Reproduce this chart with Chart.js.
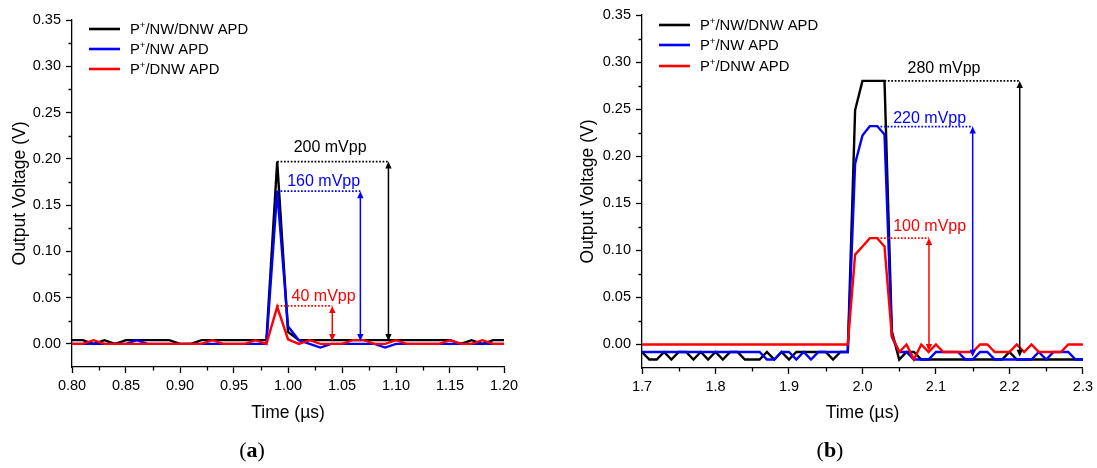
<!DOCTYPE html>
<html>
<head>
<meta charset="utf-8">
<script src="https://cdn.jsdelivr.net/npm/chart.js@4.4.1/dist/chart.umd.min.js"></script>
<style>
    html, body { margin: 0; padding: 0; background: #fff; }
    #wrap { position: relative; width: 1097px; height: 468px; overflow: hidden; }
    #chartA { position: absolute; left: 0; top: 0; }
    #chartB { position: absolute; left: 548px; top: 0; }
</style>
</head>
<body>
<div id="wrap">
    <canvas id="chartA" width="548" height="468"></canvas>
    <canvas id="chartB" width="549" height="468"></canvas>
</div>
<script>
// Series names / colours (same for both panels)
const seriesNames = ['P+/NW/DNW APD', 'P+/NW APD', 'P+/DNW APD'];
const seriesColors = ['#000000', '#0000ff', '#ff0000'];

// ---- Panel (a): time in us, output voltage in V ----
const timeA = [0.80, 0.81, 0.82, 0.83, 0.84, 0.85, 0.86, 0.87, 0.88, 0.89,
    0.90, 0.91, 0.92, 0.93, 0.94, 0.95, 0.96, 0.97, 0.98, 0.99,
    1.00, 1.01, 1.02, 1.03, 1.04, 1.05, 1.06, 1.07, 1.08, 1.09,
    1.10, 1.11, 1.12, 1.13, 1.14, 1.15, 1.16, 1.17, 1.18, 1.19, 1.20];
const blackA = [0.004, 0.004, 0, 0.004, 0, 0.004, 0.004, 0.004, 0.004, 0.004,
    0, 0, 0.004, 0.004, 0.004, 0.004, 0.004, 0.004, 0.004, 0.197,
    0.013, 0.004, 0.004, 0.004, 0.004, 0.004, 0.004, 0.004, 0.004, 0.004,
    0.004, 0.004, 0.004, 0.004, 0.004, 0.004, 0, 0.004, 0, 0.004, 0.004];
const blueA = [0, 0, 0, 0, 0, 0, 0.004, 0, 0, 0,
    0, 0, 0, 0, 0, 0, 0, 0, 0, 0.165,
    0.019, 0.004, 0, -0.004, 0, 0, 0, 0, 0, -0.004,
    0, 0, 0, 0, 0, 0, 0, 0, 0, 0, 0];
const redA = [0, 0, 0.004, 0, 0, 0, 0, 0, 0, 0,
    0, 0, 0, 0.004, 0, 0, 0, 0.004, 0, 0.040,
    0.005, 0, 0.004, 0, 0, 0, 0.004, 0.004, 0, 0,
    0.004, 0, 0, 0, 0, 0.004, 0, 0, 0.004, 0, 0];
const xTicksA = [0.80, 0.85, 0.90, 0.95, 1.00, 1.05, 1.10, 1.15, 1.20];
const xMinorA = [0.825, 0.875, 0.925, 0.975, 1.025, 1.075, 1.125, 1.175];
const yTicksA = [0.00, 0.05, 0.10, 0.15, 0.20, 0.25, 0.30, 0.35];
const yMinorA = [0.025, 0.075, 0.125, 0.175, 0.225, 0.275, 0.325];
// peak-to-peak markers (a)
const vppTextA = ['200 mVpp', '160 mVpp', '40 mVpp'];
const vppTopA = [0.197, 0.165, 0.041];
const vppBaseA = [0.003, 0.003, 0.003];
const vppStartA = [0.99, 0.99, 0.99];
const vppArrowA = [1.093, 1.067, 1.041];
const vppLabelXA = [1.039, 1.033, 1.033];
const vppLabelYA = [0.212, 0.175, 0.051];

// ---- Panel (b) ----
const timeB = [1.70, 1.71, 1.72, 1.73, 1.74, 1.75, 1.76, 1.77, 1.78, 1.79,
    1.80, 1.81, 1.82, 1.83, 1.84, 1.85, 1.86, 1.87, 1.88, 1.89,
    1.90, 1.91, 1.92, 1.93, 1.94, 1.95, 1.96, 1.97, 1.98, 1.99,
    2.00, 2.01, 2.02, 2.03, 2.04, 2.05, 2.06, 2.07, 2.08, 2.09,
    2.10, 2.11, 2.12, 2.13, 2.14, 2.15, 2.16, 2.17, 2.18, 2.19,
    2.20, 2.21, 2.22, 2.23, 2.24, 2.25, 2.26, 2.27, 2.28, 2.29, 2.30];
const blackB = [-0.008, -0.016, -0.016, -0.008, -0.016, -0.008, -0.008, -0.016, -0.008, -0.016,
    -0.008, -0.016, -0.008, -0.008, -0.016, -0.016, -0.016, -0.008, -0.016, -0.008,
    -0.016, -0.008, -0.008, -0.008, -0.008, -0.008, -0.016, -0.008, -0.008, 0.249,
    0.280, 0.280, 0.280, 0.280, 0.014, -0.016, -0.008, -0.008, -0.016, -0.016,
    -0.016, -0.016, -0.016, -0.016, -0.016, -0.016, -0.016, -0.016, -0.016, -0.016,
    -0.008, -0.016, -0.016, -0.016, -0.016, -0.016, -0.016, -0.016, -0.016, -0.016, -0.016];
const blueB = [-0.008, -0.008, -0.008, -0.008, -0.008, -0.008, -0.008, -0.008, -0.008, -0.008,
    -0.008, -0.008, -0.008, -0.008, -0.008, -0.008, -0.008, -0.016, -0.016, -0.008,
    -0.008, -0.016, -0.008, -0.016, -0.008, -0.008, -0.008, -0.008, -0.008, 0.192,
    0.222, 0.232, 0.232, 0.223, 0.008, -0.008, -0.008, -0.016, -0.016, -0.016,
    -0.008, -0.008, -0.008, -0.008, -0.016, -0.016, -0.008, -0.008, -0.016, -0.016,
    -0.016, -0.016, -0.016, -0.016, -0.008, -0.016, -0.008, -0.008, -0.008, -0.016, -0.016];
const redB = [0, 0, 0, 0, 0, 0, 0, 0, 0, 0,
    0, 0, 0, 0, 0, 0, 0, 0, 0, 0,
    0, 0, 0, 0, 0, 0, 0, 0, 0, 0.0955,
    0.104, 0.113, 0.113, 0.104, 0.009, -0.008, 0, -0.016, 0, -0.008,
    0, -0.008, -0.008, -0.008, -0.008, -0.008, 0, 0, -0.008, -0.008,
    -0.008, 0, -0.008, 0, -0.008, -0.008, -0.008, -0.008, 0, 0, 0];
const xTicksB = [1.7, 1.8, 1.9, 2.0, 2.1, 2.2, 2.3];
const xMinorB = [1.75, 1.85, 1.95, 2.05, 2.15, 2.25];
const yTicksB = [0.00, 0.05, 0.10, 0.15, 0.20, 0.25, 0.30, 0.35];
const yMinorB = [0.025, 0.075, 0.125, 0.175, 0.225, 0.275, 0.325];
const vppTextB = ['280 mVpp', '220 mVpp', '100 mVpp'];
const vppTopB = [0.280, 0.2315, 0.113];
const vppBaseB = [-0.013, -0.013, -0.007];
const vppStartB = [2.03, 2.02, 2.02];
const vppArrowB = [2.214, 2.150, 2.0905];
const vppLabelXB = [2.111, 2.0914, 2.0914];
const vppLabelYB = [0.2934, 0.2404, 0.1255];

const FONT = '"Liberation Sans", Arial, sans-serif';
const SERIF = '"Liberation Serif", "DejaVu Serif", serif';

// draws minor ticks, vpp markers, legend, axis titles and panel letter
const makeExtras = (cfg) => ({
    id: 'extras',
    afterDatasetsDraw(chart) {
        const ctx = chart.ctx;
        const xs = chart.scales.x, ys = chart.scales.y;
        const area = chart.chartArea;
        ctx.save();
        ctx.strokeStyle = '#000';
        ctx.lineWidth = 1.3;
        ctx.beginPath();
        cfg.xMinor.forEach(v => {
            const px = Math.round(xs.getPixelForValue(v)) + 0.5;
            ctx.moveTo(px, area.bottom);
            ctx.lineTo(px, area.bottom + 3.5);
        });
        cfg.yMinor.forEach(v => {
            const py = Math.round(ys.getPixelForValue(v)) + 0.5;
            ctx.moveTo(area.left - 3.5, py);
            ctx.lineTo(area.left, py);
        });
        ctx.stroke();

        // vpp markers
        cfg.vppText.forEach((txt, i) => {
            const col = seriesColors[i];
            const x0 = xs.getPixelForValue(cfg.vppStart[i]);
            const x1 = xs.getPixelForValue(cfg.vppArrow[i]);
            const yt = ys.getPixelForValue(cfg.vppTop[i]);
            const yb = ys.getPixelForValue(cfg.vppBase[i]);
            ctx.strokeStyle = col;
            ctx.fillStyle = col;
            ctx.lineWidth = 1.7;
            ctx.setLineDash([1.7, 1.7]);
            ctx.beginPath();
            ctx.moveTo(x0, yt);
            ctx.lineTo(x1, yt);
            ctx.stroke();
            ctx.setLineDash([]);
            ctx.lineWidth = 1.5;
            ctx.beginPath();
            ctx.moveTo(x1, yt + 5);
            ctx.lineTo(x1, yb - 5);
            ctx.stroke();
            ctx.beginPath();
            ctx.moveTo(x1, yt);
            ctx.lineTo(x1 - 3.2, yt + 7);
            ctx.lineTo(x1 + 3.2, yt + 7);
            ctx.closePath();
            ctx.fill();
            ctx.beginPath();
            ctx.moveTo(x1, yb);
            ctx.lineTo(x1 - 3.2, yb - 7);
            ctx.lineTo(x1 + 3.2, yb - 7);
            ctx.closePath();
            ctx.fill();
            ctx.font = '16px ' + FONT;
            ctx.textAlign = 'center';
            ctx.textBaseline = 'middle';
            ctx.fillText(txt, xs.getPixelForValue(cfg.vppLabelX[i]), ys.getPixelForValue(cfg.vppLabelY[i]));
        });
        ctx.restore();
    },
    afterDraw(chart) {
        const ctx = chart.ctx;
        const area = chart.chartArea;
        ctx.save();
        // legend
        seriesNames.forEach((name, i) => {
            const y = cfg.legendY[i];
            ctx.strokeStyle = seriesColors[i];
            ctx.lineWidth = 2.6;
            ctx.beginPath();
            ctx.moveTo(cfg.legendX, y);
            ctx.lineTo(cfg.legendX + 31, y);
            ctx.stroke();
            ctx.fillStyle = '#000';
            ctx.textBaseline = 'middle';
            ctx.textAlign = 'left';
            const parts = name.split('+');
            let tx = cfg.legendX + 41;
            ctx.font = '14.8px ' + FONT;
            ctx.fillText(parts[0], tx, y + 1);
            tx += ctx.measureText(parts[0]).width;
            ctx.font = '9.5px ' + FONT;
            ctx.fillText('+', tx, y - 4);
            tx += ctx.measureText('+').width;
            ctx.font = '14.8px ' + FONT;
            ctx.fillText(parts[1], tx, y + 1);
        });
        // axis titles
        ctx.fillStyle = '#000';
        ctx.font = '17.5px ' + FONT;
        ctx.textAlign = 'center';
        ctx.textBaseline = 'middle';
        ctx.fillText('Time (\u00b5s)', (area.left + area.right) / 2, 413);
        ctx.save();
        ctx.translate(cfg.yTitleX, (area.top + area.bottom) / 2);
        ctx.rotate(-Math.PI / 2);
        ctx.fillText('Output Voltage (V)', 0, 0);
        ctx.restore();
        // panel letter
        const pieces = [['(', 'normal'], [cfg.letter, 'bold'], [')', 'normal']];
        let w = 0;
        pieces.forEach(p => { ctx.font = p[1] + ' 22px ' + SERIF; w += ctx.measureText(p[0]).width; });
        let px = cfg.letterX - w / 2;
        ctx.textAlign = 'left';
        ctx.textBaseline = 'alphabetic';
        pieces.forEach(p => {
            ctx.font = p[1] + ' 22px ' + SERIF;
            ctx.fillText(p[0], px, 457);
            px += ctx.measureText(p[0]).width;
        });
        ctx.restore();
    }
});

const makeChart = (id, cfg) => {
    const tickFont = { family: FONT, size: 14.5 };
    return new Chart(document.getElementById(id), {
        type: 'line',
        data: {
            datasets: cfg.series.map((vals, i) => ({
                label: seriesNames[i],
                data: cfg.time.map((t, k) => ({ x: t, y: vals[k] })),
                borderColor: seriesColors[i],
                backgroundColor: seriesColors[i],
                borderWidth: 2.4,
                pointRadius: 0,
                tension: 0,
                fill: false,
                order: 3 - i
            }))
        },
        options: {
            responsive: false,
            animation: false,
            layout: { padding: { top: cfg.top, right: cfg.right, left: 0, bottom: 0 } },
            plugins: { legend: { display: false }, tooltip: { enabled: false } },
            scales: {
                x: {
                    type: 'linear',
                    min: cfg.xMin,
                    max: cfg.xMax,
                    afterBuildTicks: s => { s.ticks = cfg.xTicks.map(v => ({ value: v })); },
                    afterFit: s => { s.height = cfg.xAxisH; },
                    ticks: {
                        autoSkip: false,
                        maxRotation: 0,
                        color: '#000',
                        font: tickFont,
                        padding: 4,
                        callback: v => v.toFixed(cfg.xDec)
                    },
                    grid: { drawOnChartArea: false, color: '#000', tickLength: 6, tickWidth: 1.3 },
                    border: { color: '#000', width: 1.3 }
                },
                y: {
                    type: 'linear',
                    min: -0.025,
                    max: 0.35,
                    afterBuildTicks: s => { s.ticks = cfg.yTicks.map(v => ({ value: v })); },
                    afterFit: s => { s.width = cfg.yAxisW; },
                    ticks: {
                        color: '#000',
                        font: tickFont,
                        padding: 5,
                        callback: v => v.toFixed(2)
                    },
                    grid: { drawOnChartArea: false, color: '#000', tickLength: 6, tickWidth: 1.3 },
                    border: { color: '#000', width: 1.3 }
                }
            }
        },
        plugins: [makeExtras(cfg)]
    });
};

makeChart('chartA', {
    time: timeA, series: [blackA, blueA, redA],
    xMin: 0.80, xMax: 1.20, xDec: 2,
    xTicks: xTicksA, xMinor: xMinorA, yTicks: yTicksA, yMinor: yMinorA,
    top: 20, right: 44, xAxisH: 101, yAxisW: 72,
    vppText: vppTextA, vppTop: vppTopA, vppBase: vppBaseA, vppStart: vppStartA,
    vppArrow: vppArrowA, vppLabelX: vppLabelXA, vppLabelY: vppLabelYA,
    legendX: 89, legendY: [29, 49, 69],
    yTitleX: 20, letter: 'a', letterX: 252
});

makeChart('chartB', {
    time: timeB, series: [blackB, blueB, redB],
    xMin: 1.7, xMax: 2.3, xDec: 1,
    xTicks: xTicksB, xMinor: xMinorB, yTicks: yTicksB, yMinor: yMinorB,
    top: 15, right: 13, xAxisH: 100, yAxisW: 94,
    vppText: vppTextB, vppTop: vppTopB, vppBase: vppBaseB, vppStart: vppStartB,
    vppArrow: vppArrowB, vppLabelX: vppLabelXB, vppLabelY: vppLabelYB,
    legendX: 111, legendY: [25, 45, 66],
    yTitleX: 40, letter: 'b', letterX: 282
});
</script>
</body>
</html>
